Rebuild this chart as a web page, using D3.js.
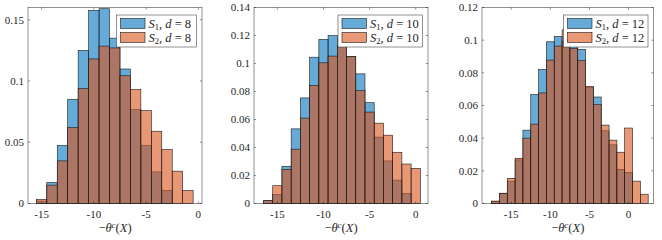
<!DOCTYPE html>
<html>
<head>
<meta charset="utf-8">
<script src="https://cdn.jsdelivr.net/npm/d3@7"></script>
<style>
  body { margin: 0; background: #fff; }
  svg { display: block; }
  text { font-family: "Liberation Serif", "Times New Roman", serif; fill: #262626; }
</style>
</head>
<body>
<svg width="662" height="240"></svg>
<script>
// bin centres and normalised counts (probability)
var binsD8 = [-15, -14, -13, -12, -11, -10, -9, -8, -7, -6, -5, -4, -3, -2, -1];
var s1D8 = [0.002, 0.0171, 0.0473, 0.0851, 0.125, 0.1576, 0.159, 0.135, 0.1098, 0.0766, 0.0473, 0.0258, 0.0106, 0, 0];
var s2D8 = [0.0033, 0.015, 0.0348, 0.062, 0.0938, 0.118, 0.1285, 0.127, 0.1043, 0.093, 0.0758, 0.059, 0.044, 0.0264, 0.0106];

var binsD10 = [-16, -15, -14, -13, -12, -11, -10, -9, -8, -7, -6, -5, -4, -3, -2, -1, 0];
var s1D10 = [0.002, 0.0065, 0.0266, 0.0533, 0.0754, 0.1045, 0.1172, 0.1199, 0.113, 0.105, 0.0926, 0.072, 0.0474, 0.0304, 0.0167, 0.0072, 0];
var s2D10 = [0.002, 0.0127, 0.0244, 0.0388, 0.061, 0.0844, 0.1005, 0.1053, 0.112, 0.1048, 0.0806, 0.0653, 0.0574, 0.0488, 0.0366, 0.0282, 0.0251];

var binsD12 = [-17, -16, -15, -14, -13, -12, -11, -10, -9, -8, -7, -6, -5, -4, -3, -2, -1, 0, 1, 2];
var s1D12 = [0.0012, 0.0063, 0.0137, 0.0267, 0.0449, 0.0667, 0.082, 0.099, 0.1022, 0.0995, 0.104, 0.0944, 0.0712, 0.0652, 0.0445, 0.0359, 0.0209, 0.0191, 0, 0];
var s2D12 = [0.0015, 0.006, 0.0154, 0.0277, 0.04, 0.0486, 0.0677, 0.0878, 0.0964, 0.1063, 0.0948, 0.0876, 0.0716, 0.0605, 0.048, 0.0388, 0.0314, 0.0462, 0.0137, 0.0057];

var xTicks = [-15, -10, -5, 0];
var yTicksD8 = [0, 0.05, 0.1, 0.15];
var yTicksD10 = [0, 0.02, 0.04, 0.06, 0.08, 0.1, 0.12, 0.14];
var yTicksD12 = [0, 0.02, 0.04, 0.06, 0.08, 0.1, 0.12];

var panels = [
  { d: 8, bins: binsD8, s1: s1D8, s2: s2D8, yTicks: yTicksD8, ymax: 0.16, xdom: [-16.3, 0.35], left: 28, right: 202 },
  { d: 10, bins: binsD10, s1: s1D10, s2: s2D10, yTicks: yTicksD10, ymax: 0.14, xdom: [-17.53, 1.33], left: 254, right: 428 },
  { d: 12, bins: binsD12, s1: s1D12, s2: s2D12, yTicks: yTicksD12, ymax: 0.12, xdom: [-18.73, 3.18], left: 482, right: 653.5 }
];

var plotTop = 7.5, plotBottom = 203.5;
var blue = 'rgb(0,114,189)', orange = 'rgb(217,83,25)', axisCol = '#262626';
var fmt = d3.format('~g');

var svg = d3.select('svg');

panels.forEach(function(p) {
  var x = d3.scaleLinear().domain(p.xdom).range([p.left, p.right]);
  var y = d3.scaleLinear().domain([0, p.ymax]).range([plotBottom, plotTop]);
  var g = svg.append('g');

  [[p.s1, blue], [p.s2, orange]].forEach(function(s) {
    g.append('g')
      .selectAll('rect')
      .data(p.bins.map(function(b, i) { return { b: b, v: s[0][i] }; }).filter(function(d) { return d.v > 0; }))
      .enter()
      .append('rect')
      .attr('x', function(d) { return x(d.b - 0.5); })
      .attr('width', function(d) { return x(d.b + 0.5) - x(d.b - 0.5); })
      .attr('y', function(d) { return y(d.v); })
      .attr('height', function(d) { return y(0) - y(d.v); })
      .attr('fill', s[1])
      .attr('fill-opacity', 0.6)
      .attr('stroke', '#1a1a1a')
      .attr('stroke-width', 0.6);
  });

  // box + inward ticks on all four sides
  g.append('rect')
    .attr('x', p.left).attr('y', plotTop)
    .attr('width', p.right - p.left).attr('height', plotBottom - plotTop)
    .attr('fill', 'none').attr('stroke', axisCol).attr('stroke-width', 0.5);

  var tl = 2.2;
  xTicks.forEach(function(t) {
    g.append('path')
      .attr('d', 'M' + x(t) + ',' + plotBottom + 'v' + -tl + 'M' + x(t) + ',' + plotTop + 'v' + tl)
      .attr('stroke', axisCol).attr('stroke-width', 0.5);
    g.append('text')
      .attr('x', x(t)).attr('y', 217.5)
      .attr('text-anchor', 'middle')
      .attr('font-size', 11)
      .text(t < 0 ? '-' + Math.abs(t) : t);
  });
  p.yTicks.forEach(function(t) {
    g.append('path')
      .attr('d', 'M' + p.left + ',' + y(t) + 'h' + tl + 'M' + p.right + ',' + y(t) + 'h' + -tl)
      .attr('stroke', axisCol).attr('stroke-width', 0.5);
    g.append('text')
      .attr('x', p.left - 4).attr('y', y(t) + 3.8)
      .attr('text-anchor', 'end')
      .attr('font-size', 11)
      .text(fmt(t));
  });

  // x label
  var xl = g.append('text')
    .attr('x', (p.left + p.right) / 2).attr('y', 232)
    .attr('text-anchor', 'middle')
    .attr('font-size', 12.5);
  xl.append('tspan').text('\u2212');
  xl.append('tspan').attr('font-style', 'italic').text('\u03b8');
  xl.append('tspan').attr('font-style', 'italic').attr('font-size', 9).attr('dy', -4.5).text('c');
  xl.append('tspan').attr('dy', 4.5).text('(');
  xl.append('tspan').attr('font-style', 'italic').text('X');
  xl.append('tspan').text(')');

  // legend
  var lw = p.d < 10 ? 80 : 84.5, lh = 32;
  var lx = p.right - 5.5 - lw, ly = 15;
  var lg = g.append('g');
  lg.append('rect')
    .attr('x', lx).attr('y', ly).attr('width', lw).attr('height', lh)
    .attr('fill', '#fff').attr('stroke', axisCol).attr('stroke-width', 0.5);
  [[blue, '1'], [orange, '2']].forEach(function(e, i) {
    var ry = ly + 3.5 + i * 14;
    lg.append('rect')
      .attr('x', lx + 4).attr('y', ry).attr('width', 24.5).attr('height', 10)
      .attr('fill', e[0]).attr('fill-opacity', 0.6)
      .attr('stroke', '#1a1a1a').attr('stroke-width', 0.6);
    var t = lg.append('text')
      .attr('x', lx + 32).attr('y', ry + 9)
      .attr('font-size', 12.5);
    t.append('tspan').attr('font-style', 'italic').text('S');
    t.append('tspan').attr('font-size', 8.5).attr('dy', 2.5).text(e[1]);
    t.append('tspan').attr('dy', -2.5).text(', ');
    t.append('tspan').attr('font-style', 'italic').text('d');
    t.append('tspan').text(' = ' + p.d);
  });
});
</script>
</body>
</html>
